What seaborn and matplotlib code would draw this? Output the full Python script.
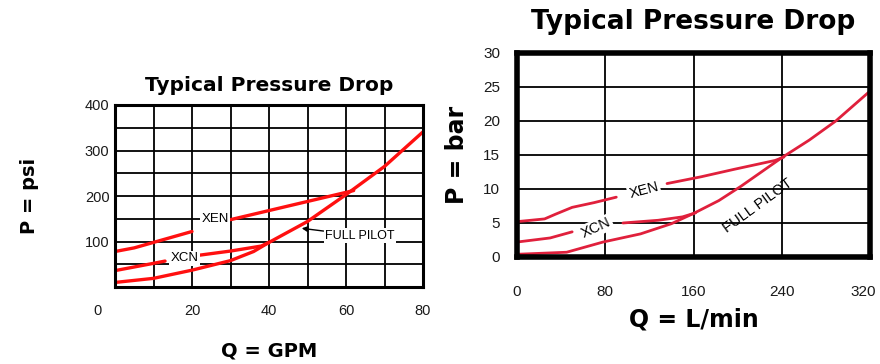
import seaborn as sns
import pandas as pd
import numpy as np
import matplotlib.pyplot as plt
import matplotlib.transforms as mtransforms

# left chart: Q in GPM, P in psi
full_gpm = [0, 10, 20, 30, 36, 40, 50, 60, 70, 80]
full_psi = [10, 19, 37, 58, 78, 98, 144, 203, 265, 341]
xen1_gpm = [0, 5, 10, 15, 20]
xen1_psi = [78, 86, 98, 110, 122]
xen2_gpm = [30, 40, 50, 60, 62]
xen2_psi = [148, 168, 188, 208, 212]
xcn1_gpm = [0, 5, 10, 13]
xcn1_psi = [36, 44, 52, 57]
xcn2_gpm = [22, 30, 38, 40]
xcn2_psi = [70, 79, 90, 98]

# right chart: Q in L/min, P in bar
full_lpm = [0, 45, 78, 112, 140, 160, 183, 203, 240, 265, 289, 320]
full_bar = [0.4, 0.7, 2.2, 3.4, 4.9, 6.4, 8.3, 10.4, 14.6, 17.2, 20.0, 24.4]
xen1_lpm = [0, 25, 35, 50, 70, 90]
xen1_bar = [5.2, 5.6, 6.3, 7.3, 8.0, 8.8]
xen2_lpm = [136, 167, 197, 234, 242]
xen2_bar = [10.8, 11.8, 12.9, 14.2, 14.7]
xcn1_lpm = [0, 30, 50]
xcn1_bar = [2.2, 2.8, 3.7]
xcn2_lpm = [96, 128, 150, 162]
xcn2_bar = [5.0, 5.4, 5.9, 6.5]

gpm_ticks = [0, 20, 40, 60, 80]
psi_ticks = [100, 200, 300, 400]
lpm_ticks = [0, 80, 160, 240, 320]
bar_ticks = [0, 5, 10, 15, 20, 25, 30]


def make_df(parts):
    rows = []
    for name, xs, ys in parts:
        for x, y in zip(xs, ys):
            rows.append({"seg": name, "q": x, "p": y})
    return pd.DataFrame(rows)


left = make_df([("full", full_gpm, full_psi), ("xen1", xen1_gpm, xen1_psi),
                ("xen2", xen2_gpm, xen2_psi), ("xcn1", xcn1_gpm, xcn1_psi),
                ("xcn2", xcn2_gpm, xcn2_psi)])
right = make_df([("full", full_lpm, full_bar), ("xen1", xen1_lpm, xen1_bar),
                 ("xen2", xen2_lpm, xen2_bar), ("xcn1", xcn1_lpm, xcn1_bar),
                 ("xcn2", xcn2_lpm, xcn2_bar)])

sns.set_style("white")
plt.rcParams['font.family'] = ['Liberation Sans', 'DejaVu Sans']
plt.rcParams['text.color'] = 'black'
plt.rcParams['axes.labelcolor'] = 'black'
heavy = ['DejaVu Sans']

fig = plt.figure(figsize=(8.8, 3.64), dpi=100)
ax1 = fig.add_axes([115 / 880, 77 / 364, 308 / 880, 182 / 364])
ax2 = fig.add_axes([517 / 880, 107 / 364, 353 / 880, 204 / 364])

# ---- left
sns.lineplot(data=left, x="q", y="p", units="seg", estimator=None,
             color="#ff1010", lw=2.4, ax=ax1, sort=True)
ax1.set_xlim(0, 80)
ax1.set_ylim(0, 400)
ax1.set_xticks(np.arange(0, 81, 10), minor=False)
ax1.set_yticks(np.arange(0, 401, 50))
ax1.set_xticklabels([str(v) if v in gpm_ticks else "" for v in range(0, 81, 10)])
ax1.set_yticklabels([str(v) if v in psi_ticks else "" for v in range(0, 401, 50)])
ax1.grid(True, color="black", lw=1.3)
ax1.tick_params(length=0, labelsize=10.5, colors="#1a1a1a")
ax1.tick_params(axis="x", pad=12)
ax1.tick_params(axis="y", pad=4)
for sp in ax1.spines.values():
    sp.set_color("black")
    sp.set_linewidth(2.2)
off = mtransforms.ScaledTranslation(-18 / 100, 0, fig.dpi_scale_trans)
for lbl in ax1.get_xticklabels():
    if lbl.get_text() == "0":
        lbl.set_transform(lbl.get_transform() + off)
ax1.set_title("Typical Pressure Drop", fontsize=14.5, fontweight="bold",
              family=heavy, pad=10, color="black")
ax1.set_xlabel("Q = GPM", fontsize=14, fontweight="bold", family=heavy,
               labelpad=17)
ax1.set_ylabel("P = psi", fontsize=14, fontweight="bold", family=heavy,
               labelpad=33)
bb = dict(boxstyle="square,pad=0.1", fc="white", ec="none")
ax1.text(26, 150, "XEN", fontsize=9.5, ha="center", va="center", bbox=bb, zorder=5)
ax1.text(18, 63, "XCN", fontsize=9.5, ha="center", va="center", bbox=bb, zorder=5)
ax1.annotate("FULL PILOT", xy=(48.5, 129), xytext=(54.5, 113), fontsize=9,
             ha="left", va="center", bbox=bb, zorder=5,
             arrowprops=dict(arrowstyle="-|>", color="black", lw=1, shrinkA=0,
                             shrinkB=0, mutation_scale=8))

# ---- right
sns.lineplot(data=right, x="q", y="p", units="seg", estimator=None,
             color="#e0203c", lw=2.0, ax=ax2, sort=True)
ax2.set_xlim(0, 320)
ax2.set_ylim(0, 30)
ax2.set_xticks(lpm_ticks)
ax2.set_yticks(bar_ticks)
ax2.grid(True, color="black", lw=1.3)
ax2.tick_params(length=0, labelsize=11, colors="#1a1a1a")
ax2.tick_params(axis="x", pad=20)
ax2.tick_params(axis="y", pad=12)
for sp in ax2.spines.values():
    sp.set_color("black")
    sp.set_linewidth(4)
off2 = mtransforms.ScaledTranslation(-7 / 100, 0, fig.dpi_scale_trans)
for lbl in ax2.get_xticklabels():
    if lbl.get_text() == "320":
        lbl.set_transform(lbl.get_transform() + off2)
ax2.set_title("Typical Pressure Drop", fontsize=19, fontweight="bold",
              family=heavy, pad=17, color="black")
ax2.set_xlabel("Q = L/min", fontsize=17, fontweight="bold", family=heavy,
               labelpad=6)
ax2.set_ylabel("P = bar", fontsize=17, fontweight="bold", family=heavy,
               labelpad=10)
ax2.text(115, 9.8, "XEN", fontsize=10.5, rotation=15, ha="center", va="center",
         bbox=bb, zorder=5)
ax2.text(72, 4.3, "XCN", fontsize=10.5, rotation=25, ha="center", va="center",
         bbox=bb, zorder=5)
ax2.text(218, 7.6, "FULL PILOT", fontsize=10.5, rotation=36, ha="center",
         va="center", zorder=5)

fig.savefig("out.png", dpi=100)
